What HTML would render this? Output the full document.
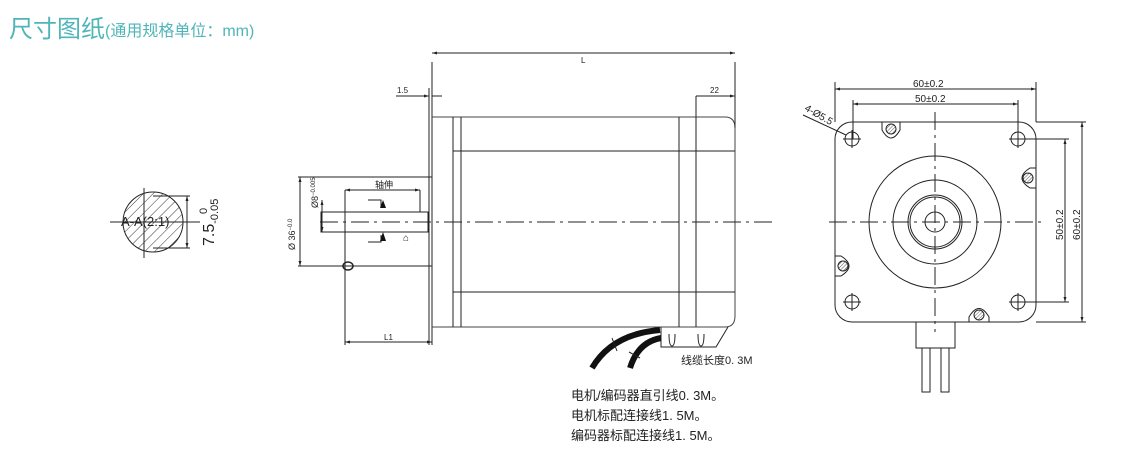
<!DOCTYPE html>
<html><head><meta charset="utf-8"><style>
html,body{margin:0;padding:0;background:#fff;width:1139px;height:462px;overflow:hidden}
svg{display:block}
text{font-family:"Liberation Sans","Noto Sans CJK SC",sans-serif}
</style></head><body>
<svg width="1139" height="462" viewBox="0 0 1139 462" xmlns="http://www.w3.org/2000/svg">
<defs>
<marker id="a" viewBox="0 0 10 10" refX="10" refY="5" markerWidth="6" markerHeight="5" orient="auto-start-reverse"><path d="M0,2 L10,5 L0,8z" fill="#222"/></marker>
<pattern id="h" width="7" height="7" patternUnits="userSpaceOnUse" patternTransform="rotate(45)"><line x1="0" y1="0" x2="0" y2="7" stroke="#333" stroke-width="1"/></pattern>
<pattern id="h2" width="2.5" height="2.5" patternUnits="userSpaceOnUse" patternTransform="rotate(45)"><line x1="0" y1="0" x2="0" y2="2.5" stroke="#333" stroke-width="0.8"/></pattern>
</defs>
<text x="9" y="37" font-size="24" fill="#4fb5b8">尺寸图纸<tspan font-size="16" dy="-1">(通用规格单位：mm)</tspan></text>

<g stroke="#222" stroke-width="1" fill="none">
<!-- section A-A -->
<circle cx="153" cy="222" r="30" fill="url(#h)"/>
<line x1="110" y1="222" x2="200" y2="222"/>
<line x1="144" y1="188" x2="144" y2="258"/>
<line x1="153" y1="196" x2="190" y2="196"/>
<line x1="153" y1="248" x2="190" y2="248"/>
<line x1="187" y1="196" x2="187" y2="248" marker-start="url(#a)" marker-end="url(#a)"/>

<!-- side view -->
<line x1="429" y1="88" x2="429" y2="345"/>
<line x1="432" y1="62" x2="432" y2="345"/>
<path d="M432,117 H725 Q735,117 735,128 V316 Q735,327 725,327 H432" stroke="#444"/>
<line x1="453" y1="117" x2="453" y2="327"/>
<line x1="461" y1="117" x2="461" y2="327"/>
<line x1="453" y1="151" x2="735" y2="151"/>
<line x1="453" y1="292" x2="735" y2="292"/>
<line x1="679" y1="117" x2="679" y2="327"/>
<line x1="696" y1="96" x2="696" y2="327"/>
<line x1="735" y1="62" x2="735" y2="128"/>
<line x1="432" y1="53" x2="735" y2="53" marker-start="url(#a)" marker-end="url(#a)"/>
<line x1="696" y1="96" x2="735" y2="96" marker-end="url(#a)"/>
<line x1="396" y1="96" x2="429" y2="96" marker-end="url(#a)"/>
<line x1="432" y1="96" x2="442" y2="96"/>
<!-- boss -->
<line x1="298" y1="177" x2="432" y2="177"/>
<line x1="298" y1="266" x2="432" y2="266"/>
<line x1="345" y1="190" x2="345" y2="345"/>
<line x1="300" y1="177" x2="300" y2="266" marker-start="url(#a)" marker-end="url(#a)"/>
<ellipse cx="348" cy="266" rx="5" ry="4" stroke-width="1.5"/>
<line x1="345" y1="342" x2="432" y2="342" marker-start="url(#a)" marker-end="url(#a)"/>
<!-- shaft -->
<rect x="321" y="212" width="107" height="20"/>
<line x1="345" y1="190" x2="420" y2="190" marker-start="url(#a)" marker-end="url(#a)"/>
<line x1="420" y1="190" x2="420" y2="212"/>
<line x1="322" y1="200" x2="322" y2="232" marker-start="url(#a)" marker-end="url(#a)"/>
<path d="M368,200 H381 V208 M368,242 H381 V235"/>
<!-- connector -->
<path d="M661,327 V347 H716 L728,327"/>
<path d="M669,334 Q669,346 672,346 Q675,346 675,334 M698,334 Q698,346 701,346 Q704,346 704,334"/>
<!-- centerline -->
<line x1="320" y1="222" x2="775" y2="222" stroke-dasharray="18,5,3,5"/>
<!-- front view -->
<rect x="835" y="122" width="201" height="200" rx="17"/>
<circle cx="935" cy="222" r="66"/>
<circle cx="935" cy="222" r="42"/>
<circle cx="935" cy="222" r="27"/>
<circle cx="935" cy="222" r="25"/>
<circle cx="935" cy="222" r="10"/>
<line x1="829" y1="222" x2="1042" y2="222" stroke-dasharray="18,5,3,5"/>
<line x1="935" y1="112" x2="935" y2="332" stroke-dasharray="18,5,3,5"/>
<g id="hole"><circle cx="852" cy="139" r="7"/><line x1="843" y1="139" x2="861" y2="139"/><line x1="852" y1="130" x2="852" y2="148"/></g>
<use href="#hole" x="166"/><use href="#hole" y="163"/><use href="#hole" x="166" y="163"/>
<circle cx="891" cy="129" r="5" fill="url(#h2)"/><path d="M882,122 V130 Q891,146 900,130 V122"/>
<circle cx="1028" cy="178" r="5" fill="url(#h2)"/><path d="M1036,168 H1030 Q1014,178 1030,188 H1036"/>
<circle cx="843" cy="266" r="5" fill="url(#h2)"/><path d="M835,256 H841 Q857,266 841,276 H835"/>
<circle cx="979" cy="315" r="5" fill="url(#h2)"/><path d="M969,322 V317 Q979,300 989,317 V322"/>
<line x1="835" y1="82" x2="835" y2="122"/><line x1="1036" y1="82" x2="1036" y2="122"/>
<line x1="835" y1="89" x2="1036" y2="89" marker-start="url(#a)" marker-end="url(#a)"/>
<line x1="853" y1="100" x2="853" y2="139"/><line x1="1018" y1="100" x2="1018" y2="139"/>
<line x1="853" y1="104" x2="1018" y2="104" marker-start="url(#a)" marker-end="url(#a)"/>
<line x1="1036" y1="122" x2="1086" y2="122"/><line x1="1036" y1="322" x2="1086" y2="322"/>
<line x1="1082" y1="122" x2="1082" y2="322" marker-start="url(#a)" marker-end="url(#a)"/>
<line x1="1018" y1="139" x2="1069" y2="139"/><line x1="1018" y1="302" x2="1069" y2="302"/>
<line x1="1065" y1="139" x2="1065" y2="302" marker-start="url(#a)" marker-end="url(#a)"/>
<line x1="803" y1="115" x2="846" y2="135"/>
<path d="M916,322 V348 H955 V322"/>
<rect x="922" y="348" width="8" height="44"/><rect x="941" y="348" width="8" height="44"/>
</g>
<!-- cables -->
<path d="M592,368 Q612,334 660,330" stroke="#111" stroke-width="6" fill="none"/>
<path d="M630,368 Q638,342 661,338" stroke="#111" stroke-width="6" fill="none"/>
<g stroke="#222"><line x1="612" y1="338" x2="617" y2="351"/><line x1="629" y1="352" x2="640" y2="358"/></g>
<path d="M383,200 l-3,8 h6z M383,232 l-3,9 h6z" fill="#111"/>
<text x="403" y="241" font-size="10" fill="#222">⌂</text>

<g fill="#222" font-size="8">
<text x="581" y="63">L</text>
<text x="710" y="93">22</text>
<text x="397" y="93">1.5</text>
<text x="384" y="340">L1</text>
<text x="375" y="188" font-size="9">轴伸</text>
<text transform="translate(295,250) rotate(-90)" font-size="9">Ø 36<tspan font-size="6" dy="-3">−0.0</tspan></text>
<text transform="translate(318,208) rotate(-90)" font-size="9">Ø8<tspan font-size="6" dy="-3">−0.005</tspan></text>
<text transform="translate(804,110) rotate(30)" font-size="10">4-Ø5.5</text>
<text x="913" y="87" font-size="10">60±0.2</text>
<text x="915" y="102" font-size="10">50±0.2</text>
<text transform="translate(1063,240) rotate(-90)" font-size="10">50±0.2</text>
<text transform="translate(1080,240) rotate(-90)" font-size="10">60±0.2</text>
<text x="121" y="226" font-size="13" font-family="Liberation Serif,serif">A-A(2:1)</text>
<text transform="translate(214,246) rotate(-90)" font-size="16">7.5<tspan font-size="11" dy="4">-0.05</tspan></text>
<text transform="translate(207,214) rotate(-90)" font-size="11">0</text>
<text x="681" y="364" font-size="11">线缆长度0. 3M</text>
<g font-size="13"><text x="571" y="400">电机/编码器直引线0. 3M。</text>
<text x="571" y="420">电机标配连接线1. 5M。</text>
<text x="571" y="440">编码器标配连接线1. 5M。</text></g>
</g>
</svg>
</body></html>
